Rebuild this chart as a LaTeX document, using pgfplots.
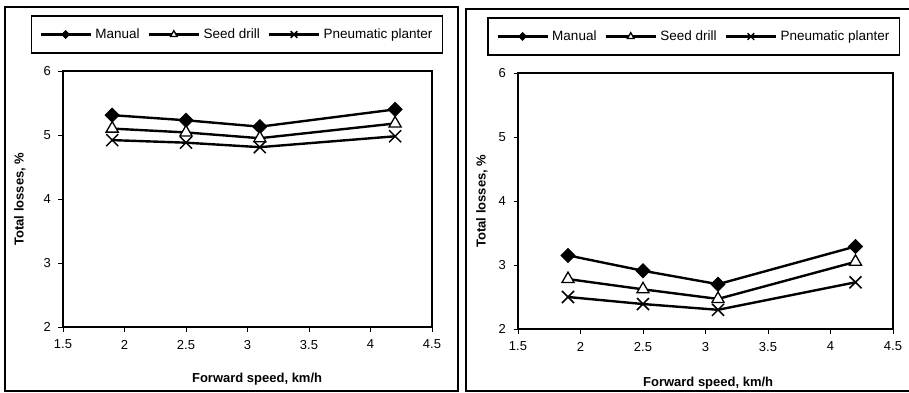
\documentclass[border=0pt]{standalone}
\usepackage{pgfplots}
\pgfplotsset{compat=1.18}
\usepackage{fontspec}
\setmainfont{Liberation Sans}

\pgfplotsset{
  mychart/.style={
    scale only axis,
    anchor=south west,
    xmin=1.5, xmax=4.5, ymin=2, ymax=6,
    xtick={1.5,2,2.5,3,3.5,4,4.5},
    ytick={2,3,4,5,6},
    xtick pos=bottom, ytick pos=left,
    tick align=outside,
    major tick length=4.5pt,
    tick style={black, line width=0.8pt},
    axis line style={line width=2.6pt},
    /pgf/number format/assume math mode=true,
    tick label style={font=\fontsize{13}{15}\selectfont},
    xticklabel style={yshift=-5pt},
    yticklabel style={xshift=-4pt},
    label style={font=\fontsize{13}{15}\selectfont\bfseries},
    xlabel={Forward speed, km/h},
    ylabel={Total losses, \%},
    legend columns=3,
    legend style={draw=black, line width=1.8pt, anchor=center,
      font=\fontsize{13.5}{16}\selectfont,
      inner ysep=11pt, inner xsep=8pt,
      /tikz/every odd column/.append style={column sep=1.5pt},
      /tikz/every even column/.append style={column sep=6pt},
      cells={anchor=west}},
    legend image code/.code={\draw[mark repeat=2,mark phase=2,#1,/tikz/every mark/.append style={scale=0.55}] plot coordinates {(0pt,0pt) (25pt,0pt) (50pt,0pt)};},
  },
  manual/.style={black, line width=2.4pt, mark=square*, mark size=5pt,
    mark options={rotate=45, fill=black, line width=0.8pt, solid}},
  seed/.style={black, line width=2.4pt, mark=triangle*, mark size=7pt,
    mark options={fill=white, line width=1.3pt, solid}},
  pneu/.style={black, line width=2.4pt, mark=x, mark size=8.5pt,
    mark options={line width=1.5pt, solid}},
}

\begin{document}
\begin{tikzpicture}[x=1pt,y=1pt]
\useasboundingbox (0,0) rectangle (909,392);
\draw[line width=1.8pt] (5,1) rectangle (458,385);
\draw[line width=1.8pt] (466,1) rectangle (915,383);

\begin{axis}[mychart, at={(63pt,65pt)}, width=369pt, height=256pt,
  ylabel style={at={(axis description cs:-0.117,0.5)}, anchor=center},
  xlabel style={at={(axis description cs:0.526,-0.203)}, anchor=center},
  legend style={at={(axis description cs:0.4715,1.1426)}}]
\addplot[manual] coordinates {(1.9,5.31) (2.5,5.23) (3.1,5.13) (4.2,5.40)};
\addplot[seed] coordinates {(1.9,5.10) (2.5,5.04) (3.1,4.95) (4.2,5.18)};
\addplot[pneu] coordinates {(1.9,4.92) (2.5,4.88) (3.1,4.81) (4.2,4.98)};
\legend{Manual, Seed drill, Pneumatic planter}
\end{axis}

\begin{axis}[mychart, at={(518pt,63pt)}, width=375pt, height=256pt,
  ylabel style={at={(axis description cs:-0.096,0.5)}, anchor=center},
  xlabel style={at={(axis description cs:0.507,-0.211)}, anchor=center},
  legend style={at={(axis description cs:0.469,1.1426)}}]
\addplot[manual] coordinates {(1.9,3.15) (2.5,2.91) (3.1,2.70) (4.2,3.29)};
\addplot[seed] coordinates {(1.9,2.78) (2.5,2.62) (3.1,2.47) (4.2,3.05)};
\addplot[pneu] coordinates {(1.9,2.50) (2.5,2.39) (3.1,2.30) (4.2,2.73)};
\legend{Manual, Seed drill, Pneumatic planter}
\end{axis}
\end{tikzpicture}
\end{document}
